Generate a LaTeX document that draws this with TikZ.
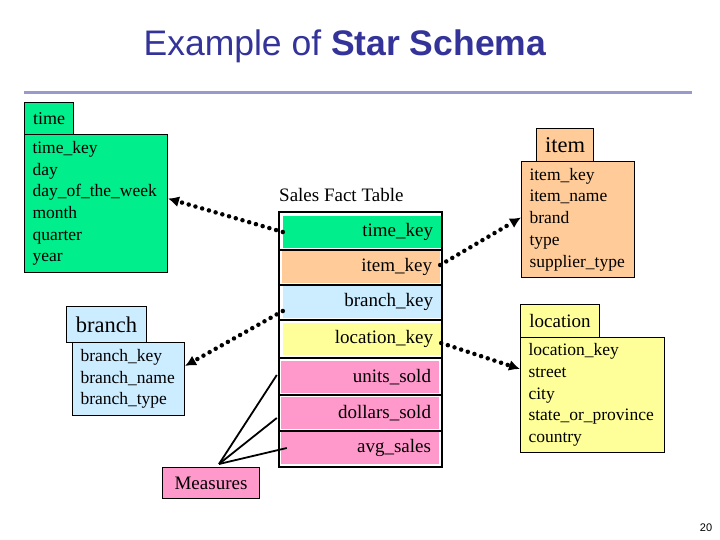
\documentclass[tikz,border=0pt]{standalone}
\usepackage{fontspec}
\setmainfont{Liberation Serif}
\newfontfamily\arialfont{Liberation Sans}
\usetikzlibrary{arrows.meta}
\definecolor{tgreen}{HTML}{00EE8C}
\definecolor{tpeach}{HTML}{FFCC99}
\definecolor{tblue}{HTML}{CCECFF}
\definecolor{tyellow}{HTML}{FFFF99}
\definecolor{tpink}{HTML}{FF99CC}
\definecolor{ttitle}{HTML}{333399}
\definecolor{trule}{HTML}{9999CC}
\begin{document}
\begin{tikzpicture}[x=1pt,y=-1pt,
  tabbox/.style={draw=black, line width=1pt, inner sep=0pt, anchor=north west},
  dimbox/.style={draw=black, line width=1pt, inner xsep=8pt, inner ysep=0pt, anchor=north west, align=left,
     font=\fontsize{17.5}{21.7}\selectfont},
  factrow/.style={inner xsep=8pt, inner ysep=0pt, minimum height=32pt, text width=142pt, align=right,
     font=\fontsize{19}{22}\selectfont},
  dotline/.style={line width=4.5pt, dash pattern=on 0pt off 7pt, line cap=round,
     -{Latex[length=11pt,width=11pt]}},
  measline/.style={line width=1.8pt}]
\useasboundingbox (0,0) rectangle (720,540);

% title
\node[text=ttitle, font=\arialfont\fontsize{35.5}{40}\selectfont] (title) at (345,46) {Example of \textbf{Star Schema}};
\draw[trule, line width=3pt] (24,92.5) -- (692,92.5);

% time dimension
\node[tabbox, fill=tgreen, minimum width=49pt, minimum height=32pt, font=\fontsize{18}{20}\selectfont] (timetab) at (24,102) {time};
\node[dimbox, fill=tgreen, text width=127pt, minimum height=138pt] (timebox) at (24,134)
  {time\_key\\day\\day\_of\_the\_week\\month\\quarter\\year};

% item dimension
\node[tabbox, fill=tpeach, minimum width=57pt, minimum height=33pt, font=\fontsize{22.5}{24}\selectfont] (itemtab) at (536,128) {item};
\node[dimbox, fill=tpeach, text width=97pt, minimum height=116pt] (itembox) at (521,161)
  {item\_key\\item\_name\\brand\\type\\supplier\_type};

% location dimension
\node[tabbox, fill=tyellow, minimum width=79pt, minimum height=33pt, font=\fontsize{19}{21}\selectfont] (loctab) at (520,304) {location};
\node[dimbox, fill=tyellow, text width=128pt, minimum height=115pt] (locbox) at (520,337)
  {location\_key\\street\\city\\state\_or\_province\\country};

% branch dimension
\node[tabbox, fill=tblue, minimum width=80pt, minimum height=36pt, font=\fontsize{22.5}{24}\selectfont] (branchtab) at (66,306) {branch};
\node[dimbox, fill=tblue, text width=96pt, minimum height=73pt] (branchbox) at (72,342)
  {branch\_key\\branch\_name\\branch\_type};

% measures
\node[tabbox, fill=tpink, minimum width=97pt, minimum height=31pt, font=\fontsize{19}{21}\selectfont] (measures) at (162,467) {Measures};

% fact table
\node[anchor=west, inner sep=0pt, font=\fontsize{19}{22}\selectfont] (facttitle) at (279,195) {Sales Fact Table};
\node[factrow, fill=tgreen] (rtime) at (362,232) {time\_key};
\node[factrow, fill=tpeach] (ritem) at (361,267) {item\_key};
\node[factrow, fill=tblue] (rbranch) at (362,302) {branch\_key};
\node[factrow, fill=tyellow] (rloc) at (362,339) {location\_key};
\node[factrow, fill=tpink] (runits) at (360,377) {units\_sold};
\node[factrow, fill=tpink] (rdollars) at (360,413) {dollars\_sold};
\node[factrow, fill=tpink] (ravg) at (360,448) {avg\_sales};
\draw[line width=2pt] (279,212) rectangle (442,467);
\foreach \yy in {249.5,284.5,320,358,395,430.5}
  \draw[line width=2pt] (279,\yy) -- (442,\yy);

% connectors
\draw[dotline] (rtime.west) -- ([yshift=5pt]timebox.east);
\draw[dotline] ([yshift=2pt]ritem.east) -- ([yshift=2pt]itembox.west);
\draw[dotline] ([yshift=-9pt]rbranch.west) -- ([yshift=13pt]branchbox.east);
\draw[dotline] ([yshift=-4pt]rloc.east) -- ([yshift=26pt]locbox.west);

\coordinate (mtop) at ([xshift=8pt,yshift=3pt]measures.north);
\draw[measline] (mtop) -- ([xshift=-4pt,yshift=2pt]runits.west);
\draw[measline] (mtop) -- ([xshift=-4pt,yshift=-5pt]rdollars.west);
\draw[measline] (mtop) -- ([xshift=6pt]ravg.west);

% page number
\node[font=\arialfont\fontsize{11}{12}\selectfont] (pagenum) at (706,528) {20};
\end{tikzpicture}
\end{document}
